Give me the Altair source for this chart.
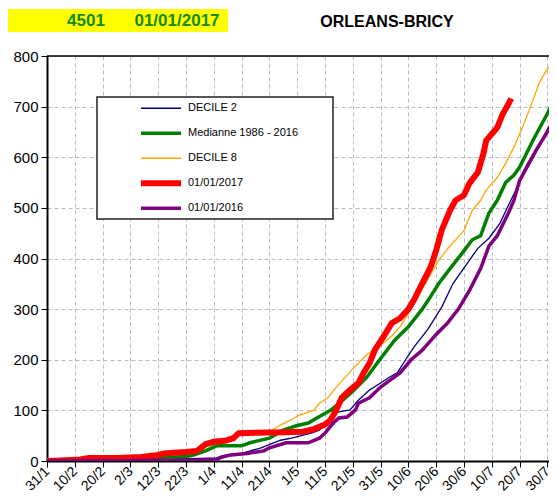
import altair as alt
import pandas as pd

# ---------------- data ----------------
tick_days = list(range(0, 181, 10))
tick_labels = ["31/1", "10/2", "20/2", "2/3", "12/3", "22/3", "1/4", "11/4", "21/4", "1/5",
               "11/5", "21/5", "31/5", "10/6", "20/6", "30/6", "10/7", "20/7", "30/7"]
y_ticks = list(range(0, 801, 100))

series_names = ["DECILE 2", "Medianne 1986 - 2016", "DECILE 8", "01/01/2017", "01/01/2016"]
series_colors = ["#000080", "#008000", "#FFA500", "#FF0000", "#800080"]
series_widths = [1.3, 3.5, 1.3, 6, 3.5]

header_code = "4501"
header_date = "01/01/2017"
station = "ORLEANS-BRICY"

decile2_day = [0, 20, 40, 55, 61, 63, 70, 77, 84, 88, 95, 98, 101, 103, 109, 112, 116, 120, 123,
               126, 129, 132, 137, 142, 146, 152, 155, 159, 163, 166, 170, 175, 179, 183.5]
decile2_val = [0, 2, 3, 5, 6, 10, 15, 26, 41, 45, 55, 61, 80, 95, 101, 120, 140, 154, 165,
               174, 200, 225, 260, 304, 350, 397, 420, 440, 470, 505, 550, 600, 645, 686]

median_day = [0, 15, 25, 40, 50, 53, 57, 61, 70, 73, 80, 85, 90, 94, 98, 102, 106, 110, 115, 119,
              125, 130, 135, 138, 141, 145, 150, 153, 156, 159, 162, 165, 168, 170, 175, 180, 183.5]
median_val = [0, 2, 4, 6, 9, 12, 20, 30, 30, 36, 45, 61, 70, 75, 88, 100, 118, 138, 165, 195,
              238, 265, 300, 325, 351, 380, 415, 437, 445, 490, 515, 550, 565, 580, 635, 686, 726]

decile8_day = [0, 14, 20, 35, 45, 52, 56, 59, 62, 66, 69, 75, 80, 84, 88, 91, 96, 98, 101, 105, 110,
               115, 120, 124, 127, 131, 134, 138, 141, 145, 150, 153, 156, 158, 162, 165, 168, 171,
               174, 177, 180, 183.5]
decile8_val = [0, 3, 5, 8, 12, 18, 25, 35, 40, 45, 52, 55, 58, 71, 82, 91, 100, 114, 125, 152, 182,
               210, 228, 247, 265, 300, 331, 368, 397, 425, 455, 495, 515, 535, 560, 588, 620, 659,
               700, 746, 775, 797]

y2017_day = [0, 5, 12, 15, 25, 34, 37, 40, 42, 50, 54, 57, 60, 64, 67, 69, 75, 85, 92, 96, 100,
             102, 104, 106, 109, 112, 114, 116, 118, 121, 124, 127, 130, 132, 135, 138, 140, 142,
             145, 147, 150, 152, 155, 157, 158, 162, 164, 166, 167]
y2017_val = [0, 1, 3, 6, 6, 8, 10, 12, 15, 18, 20, 33, 38, 40, 45, 55, 56, 57, 58, 63, 72,
             81, 100, 125, 140, 154, 175, 193, 220, 245, 272, 282, 300, 318, 351, 383, 416, 456,
             495, 515, 525, 549, 570, 607, 633, 659, 686, 705, 716]

y2016_day = [0, 30, 55, 61, 63, 66, 72, 78, 80, 86, 94, 98, 100, 103, 105, 108, 111, 112, 116, 120,
             127, 131, 135, 140, 144, 148, 152, 156, 159, 162, 166, 168, 170, 173, 176, 180, 183.5]
y2016_val = [0, 1, 2, 3, 8, 12, 15, 20, 26, 36, 36, 45, 55, 75, 85, 87, 101, 114, 125, 146,
             174, 200, 219, 250, 272, 300, 337, 380, 425, 445, 490, 515, 554, 585, 614, 650, 688]

all_days = [decile2_day, median_day, decile8_day, y2017_day, y2016_day]
all_vals = [decile2_val, median_val, decile8_val, y2017_val, y2016_val]

rows = []
for name, ds, vs in zip(series_names, all_days, all_vals):
    for d, v in zip(ds, vs):
        rows.append({"serie": name, "day": d, "val": v})
df = pd.DataFrame(rows)

FONT = "Liberation Sans"
W, H = 502, 405
XMAX = 180.6

label_expr = "[" + ",".join("'" + t + "'" for t in tick_labels) + "][round(datum.value/10)]"

leg = alt.Legend(
    title=None, orient="none", legendX=91, legendY=40,
    symbolType="stroke", symbolSize=1600, labelFont=FONT, labelFontSize=11,
    labelColor="black", labelOffset=4, rowPadding=0, clipHeight=24.5, padding=0,
)

lines = alt.Chart(df).mark_line(clip=True).encode(
    x=alt.X("day:Q", scale=alt.Scale(domain=[0, XMAX], nice=False, zero=False),
            axis=alt.Axis(values=tick_days, labelExpr=label_expr, title=None,
                          labelAngle=315, labelAlign="right", labelBaseline="middle",
                          labelFontSize=14, labelFont=FONT, labelColor="black",
                          labelOverlap=False, labelBound=False,
                          labelPadding=2, tickSize=6, tickColor="black",
                          domainColor="black", domainWidth=2,
                          grid=True, gridColor="#BBBBBB", gridDash=[4, 3], gridWidth=1)),
    y=alt.Y("val:Q", scale=alt.Scale(domain=[0, 800], nice=False),
            axis=alt.Axis(values=y_ticks, title=None, labelFontSize=15, labelFont=FONT,
                          labelColor="black", labelPadding=3, tickSize=6, tickColor="black",
                          domainColor="black", domainWidth=2, labelOverlap=False,
                          grid=True, gridColor="#BBBBBB", gridDash=[4, 3], gridWidth=1)),
    color=alt.Color("serie:N", scale=alt.Scale(domain=series_names, range=series_colors), legend=leg),
    strokeWidth=alt.StrokeWidth("serie:N", scale=alt.Scale(type="ordinal", domain=series_names,
                                                           range=series_widths), legend=leg),
    detail="serie:N",
)

one = pd.DataFrame({"k": [0]})

legend_box = alt.Chart(one).mark_rect(fill="white", stroke="#222222", strokeWidth=1.5).encode(
    x=alt.value(50), x2=alt.value(286), y=alt.value(41), y2=alt.value(163)
)

top_border = alt.Chart(one).mark_rule(color="black", strokeWidth=1.5).encode(
    x=alt.value(0), x2=alt.value(W), y=alt.value(0)
)

yellow = alt.Chart(one).mark_rect(fill="#FFFF00").encode(
    x=alt.value(-42), x2=alt.value(181), y=alt.value(-47), y2=alt.value(-24)
)

t_code = alt.Chart(one).mark_text(font=FONT, fontSize=17, fontWeight="bold", color="#138A13",
                                  align="center", baseline="middle").encode(
    x=alt.value(39), y=alt.value(-35), text=alt.value(header_code))
t_date = alt.Chart(one).mark_text(font=FONT, fontSize=17, fontWeight="bold", color="#138A13",
                                  align="center", baseline="middle").encode(
    x=alt.value(130), y=alt.value(-35), text=alt.value(header_date))
t_station = alt.Chart(one).mark_text(font=FONT, fontSize=16, fontWeight="bold", color="black",
                                     align="center", baseline="middle").encode(
    x=alt.value(340), y=alt.value(-34), text=alt.value(station))

chart = alt.layer(legend_box, lines, top_border, yellow, t_code, t_date, t_station).properties(
    width=W, height=H,
    autosize=alt.AutoSizeParams(type="none"),
    padding={"left": 39, "top": 48, "right": 0, "bottom": 36},
).configure_view(stroke=None).configure(font=FONT)

chart.save("out.html", embed_options={"renderer": "svg", "actions": False})
